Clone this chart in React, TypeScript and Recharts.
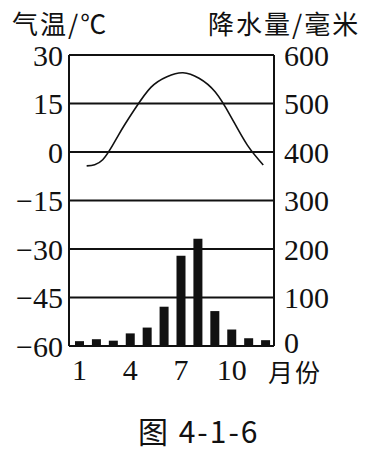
import { ComposedChart, Bar, Line, XAxis, YAxis, CartesianGrid } from 'recharts';

const months = [1, 2, 3, 4, 5, 6, 7, 8, 9, 10, 11, 12];
const temperature = [-4.3, -2.4, 5.4, 13.3, 20.0, 23.3, 24.5, 22.8, 18.6, 10.8, 2.2, -4.0];
const precipitation = [10, 14, 11, 26, 38, 81, 186, 221, 72, 34, 16, 12];
const tempTicks = [-60, -45, -30, -15, 0, 15, 30];
const rainTicks = [0, 100, 200, 300, 400, 500, 600];

const data = months.map((m, i) => ({ month: m, temp: temperature[i], rain: precipitation[i] }));

const INK = '#111111';
const serif = '"Liberation Serif", "DejaVu Serif", serif';
const cjk = '"Noto Sans CJK SC", sans-serif';

const tickStyle = { fontFamily: serif, fontSize: 30, fill: INK };

function fmtTemp(v: number) {
  return v < 0 ? `\u2212${Math.abs(v)}` : String(v);
}

// right axis labels; the "0" sits a little higher in the original, clear of 月份
function RainTick(props: any) {
  const { x, y, payload } = props;
  const lift = payload.value === 0 ? -4 : 0;
  return (
    <text x={x} y={y + lift} dy="0.355em" textAnchor="start" {...tickStyle}>
      {payload.value}
    </text>
  );
}

function Caption({ x, y, size, children, family = cjk }: { x: number; y: number; size: number; children: string; family?: string }) {
  return (
    <div
      style={{
        position: 'absolute',
        left: x,
        top: y - size / 2,
        fontSize: size,
        lineHeight: `${size}px`,
        fontFamily: family,
        color: INK,
        whiteSpace: 'nowrap',
        letterSpacing: 2,
      }}
    >
      {children}
    </div>
  );
}

export default function App() {
  return (
    <div style={{ position: 'absolute', top: 0, left: 0, width: 390, height: 453, background: '#fff', overflow: 'hidden' }}>
      <ComposedChart width={390} height={453} data={data} margin={{ top: 55, right: 56, left: 9, bottom: 77 }}>
        <CartesianGrid vertical={false} yAxisId="temp" xAxisId="bar" stroke={INK} strokeWidth={2} />
        <XAxis
          xAxisId="bar"
          dataKey="month"
          height={30}
          interval={2}
          padding={{ left: 2, right: 0 }}
          tickLine={false}
          tickSize={0}
          tickMargin={13}
          axisLine={{ stroke: INK, strokeWidth: 2 }}
          tick={tickStyle}
        />
        <XAxis xAxisId="line" dataKey="month" type="number" domain={[-0.1, 12.67]} hide />
        <YAxis
          yAxisId="temp"
          width={60}
          domain={[-60, 30]}
          ticks={tempTicks}
          tickFormatter={fmtTemp}
          tickLine={false}
          tickSize={0}
          tickMargin={6}
          axisLine={{ stroke: INK, strokeWidth: 2 }}
          tick={tickStyle}
        />
        <YAxis
          yAxisId="rain"
          orientation="right"
          width={60}
          domain={[0, 600]}
          ticks={rainTicks}
          tickLine={false}
          tickSize={0}
          tickMargin={10}
          axisLine={{ stroke: INK, strokeWidth: 2 }}
          tick={<RainTick />}
        />
        <Bar dataKey="rain" xAxisId="bar" yAxisId="rain" fill={INK} barSize={9} isAnimationActive={false} />
        <Line
          dataKey="temp"
          xAxisId="line"
          yAxisId="temp"
          type="natural"
          stroke={INK}
          strokeWidth={1.6}
          dot={false}
          activeDot={false}
          isAnimationActive={false}
        />
      </ComposedChart>
      <Caption x={12} y={23} size={26}>气温/℃</Caption>
      <Caption x={208} y={23} size={26}>降水量/毫米</Caption>
      <Caption x={268} y={371} size={25}>月份</Caption>
      <Caption x={138} y={430} size={30}>图 4-1-6</Caption>
    </div>
  );
}
